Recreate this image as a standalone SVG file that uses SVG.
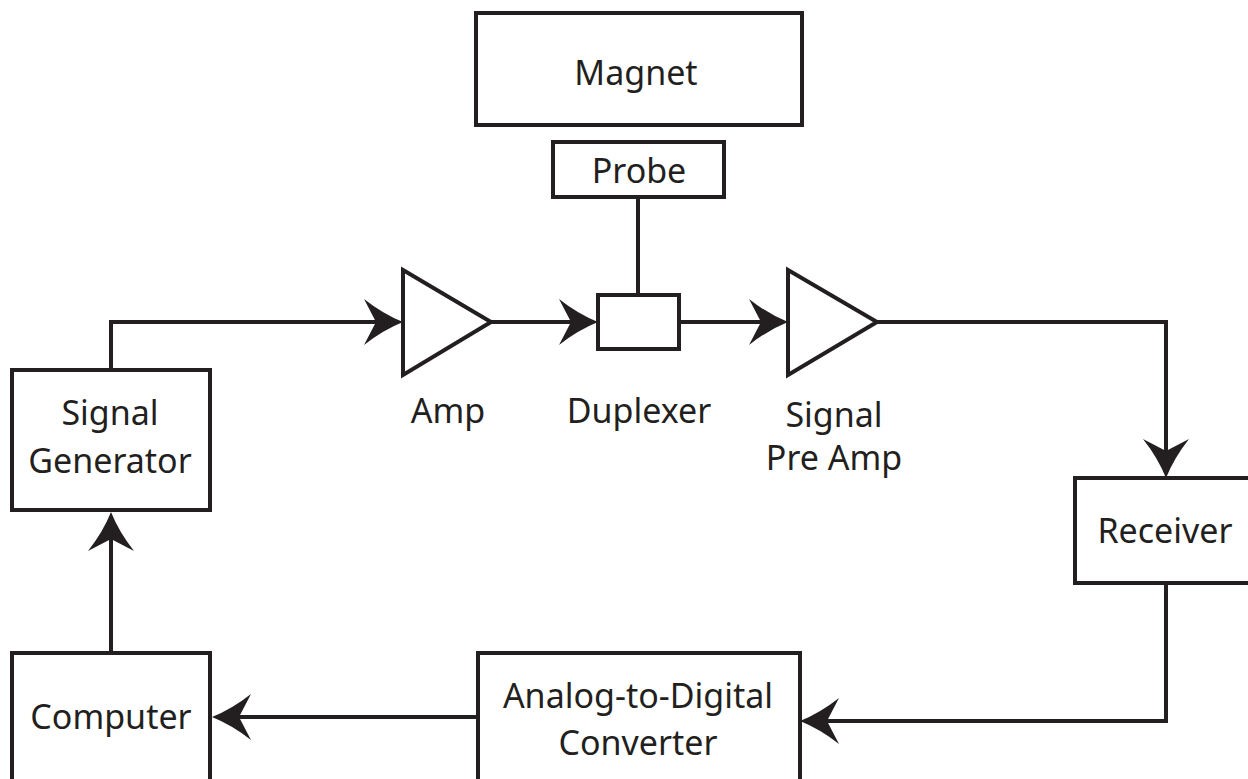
<svg xmlns="http://www.w3.org/2000/svg" width="1248" height="779" viewBox="0 0 1248 779">
  <style>
    .box { fill: #ffffff; stroke: #231f20; stroke-width: 4; }
    .wire { fill: none; stroke: #231f20; stroke-width: 4; }
    .lbl { font-family: "Noto Sans", "Open Sans", "Liberation Sans", sans-serif; font-size: 34px; fill: #231f20; text-anchor: middle; }
  </style>
  <defs>
    <marker id="arrow" markerUnits="userSpaceOnUse" viewBox="-42 -25 44 50" markerWidth="44" markerHeight="50" refX="-10" refY="0" orient="auto">
      <path d="M0,0 Q-20,-8 -39,-23 L-27,0 L-39,23 Q-20,8 0,0 Z" fill="#231f20"/>
    </marker>
  </defs>
  <rect width="1248" height="779" fill="#ffffff"/>

  <!-- signal path connectors -->
  <g id="connectors">
    <path class="wire" d="M111,370 V322 H393" marker-end="url(#arrow)"/>
    <path class="wire" d="M491,322 H588" marker-end="url(#arrow)"/>
    <path class="wire" d="M638,197 V295"/>
    <path class="wire" d="M679,322 H778" marker-end="url(#arrow)"/>
    <path class="wire" d="M877,322 H1166 V468" marker-end="url(#arrow)"/>
    <path class="wire" d="M1166,583 V721 H810" marker-end="url(#arrow)"/>
    <path class="wire" d="M478,717 H222" marker-end="url(#arrow)"/>
    <path class="wire" d="M111,653 V522" marker-end="url(#arrow)"/>
  </g>

  <g id="magnet">
    <rect class="box" x="476" y="13" width="326" height="112"/>
    <text class="lbl" x="636" y="85">Magnet</text>
  </g>

  <g id="probe">
    <rect class="box" x="553" y="142" width="171" height="55"/>
    <text class="lbl" x="639" y="183">Probe</text>
  </g>

  <g id="duplexer">
    <rect class="box" x="598" y="295" width="81" height="54"/>
    <text class="lbl" x="639" y="423">Duplexer</text>
  </g>

  <g id="amp">
    <polygon class="box" points="403,270 491,322 403,375"/>
    <text class="lbl" x="448" y="423">Amp</text>
  </g>

  <g id="preamp">
    <polygon class="box" points="788,270 877,322 788,375"/>
    <text class="lbl" x="834" y="427">Signal</text>
    <text class="lbl" x="834" y="470">Pre Amp</text>
  </g>

  <g id="signal-generator">
    <rect class="box" x="12" y="370" width="198" height="140"/>
    <text class="lbl" x="110" y="425">Signal</text>
    <text class="lbl" x="110" y="473">Generator</text>
  </g>

  <g id="receiver">
    <rect class="box" x="1075" y="478" width="200" height="105"/>
    <text class="lbl" x="1165" y="543">Receiver</text>
  </g>

  <g id="adc">
    <rect class="box" x="478" y="653" width="322" height="150"/>
    <text class="lbl" x="638" y="708">Analog-to-Digital</text>
    <text class="lbl" x="638" y="755">Converter</text>
  </g>

  <g id="computer">
    <rect class="box" x="12" y="653" width="198" height="150"/>
    <text class="lbl" x="111" y="729">Computer</text>
  </g>
</svg>
